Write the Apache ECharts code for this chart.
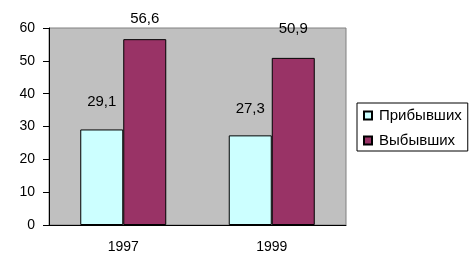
<!DOCTYPE html>
<html><head><meta charset="utf-8">
<script src="https://cdn.jsdelivr.net/npm/echarts@6/dist/echarts.min.js"></script>
<style>html,body{margin:0;padding:0;background:#fff}#c{width:476px;height:276px}</style>
</head><body><div id="c"></div>
<script>
const categories = ['1997', '1999'];
const arrived = [29.1, 27.3];
const departed = [56.6, 50.9];
const seriesNames = ['Прибывших', 'Выбывших'];
const yTicks = [0, 10, 20, 30, 40, 50, 60];

// label offsets above bars (style only)
const arrivedLabelGap = [20, 19];
const departedLabelGap = [13, 22];

const chart = echarts.init(document.getElementById('c'), null, {renderer: 'canvas'});
const font = 'Liberation Sans, Arial, sans-serif';
const fmt = p => String(p.value).replace('.', ',');
const withLabels = (vals, gaps) => vals.map((v, i) => ({value: v, label: {distance: gaps[i]}}));
chart.setOption({
  animation: false,
  textStyle: {fontFamily: font},
  grid: {left: 49, top: 28, right: 130, bottom: 51, show: true, backgroundColor: '#C0C0C0', borderColor: '#808080', borderWidth: 1},
  legend: {
    orient: 'vertical', left: 357, top: 103,
    padding: [5, 6, 3, 6], itemGap: 10,
    borderColor: '#000', borderWidth: 1,
    icon: 'rect', itemWidth: 8, itemHeight: 8,
    textStyle: {fontFamily: font, fontSize: 15, color: '#000', padding: [0, 0, 0, 2]},
    data: seriesNames
  },
  xAxis: {
    type: 'category', data: categories,
    axisLine: {lineStyle: {color: '#000'}},
    axisTick: {length: 5, lineStyle: {color: '#000'}},
    axisLabel: {color: '#000', fontSize: 14, margin: 15, fontFamily: font}
  },
  yAxis: {
    type: 'value', min: yTicks[0], max: yTicks[yTicks.length - 1], interval: 10,
    axisLine: {show: true, lineStyle: {color: '#000'}},
    axisTick: {show: true, length: 6, lineStyle: {color: '#000'}},
    splitLine: {show: false},
    axisLabel: {color: '#000', fontSize: 14, margin: 14, fontFamily: font}
  },
  series: [
    {name: seriesNames[0], type: 'bar', data: withLabels(arrived, arrivedLabelGap), barWidth: 43, barGap: '0%',
     itemStyle: {color: '#CCFFFF', borderColor: '#000', borderWidth: 1},
     label: {show: true, position: 'top', color: '#000', fontSize: 15, fontFamily: font, formatter: fmt}},
    {name: seriesNames[1], type: 'bar', data: withLabels(departed, departedLabelGap), barWidth: 43, barGap: '0%',
     itemStyle: {color: '#993366', borderColor: '#000', borderWidth: 1},
     label: {show: true, position: 'top', color: '#000', fontSize: 15, fontFamily: font, formatter: fmt}}
  ]
});
</script></body></html>
